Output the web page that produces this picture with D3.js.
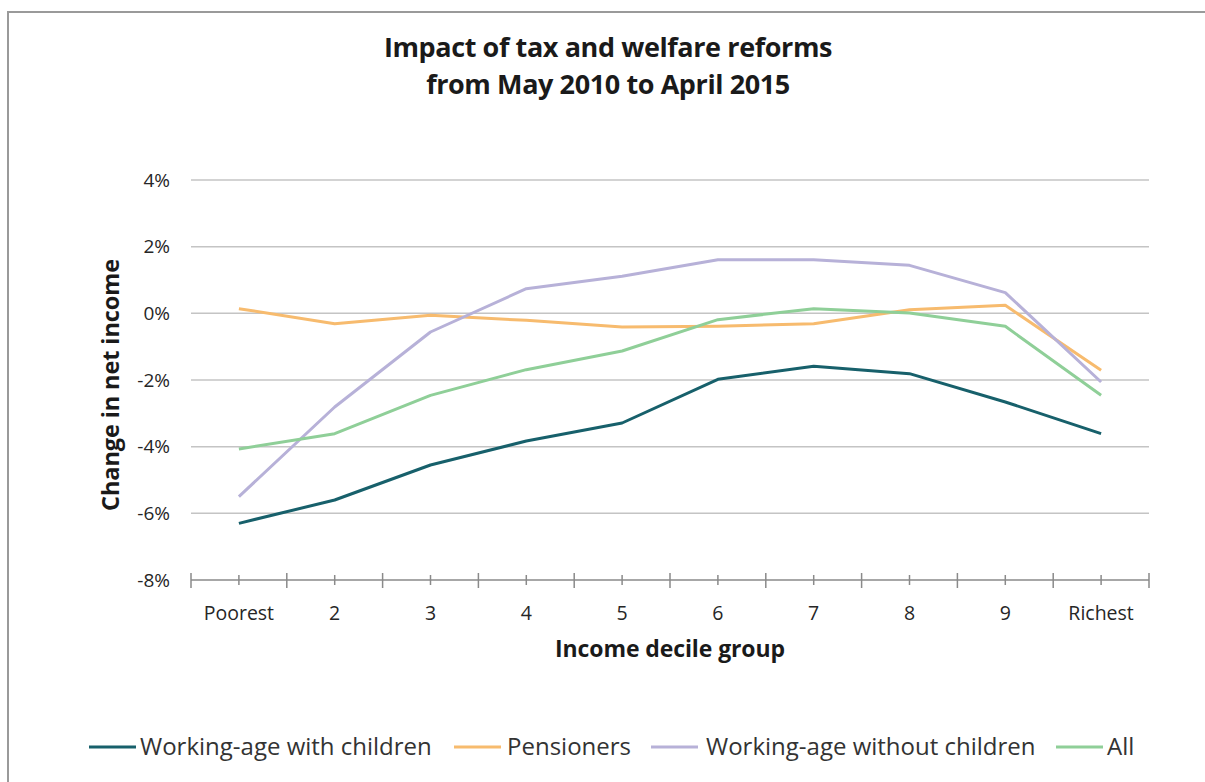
<!DOCTYPE html>
<html>
<head>
<meta charset="utf-8">
<script src="https://cdn.jsdelivr.net/npm/d3@7"></script>
<style>
  html, body { margin: 0; padding: 0; background: #fff; }
  svg { display: block; }
  text { font-family: "Open Sans", "Noto Sans", sans-serif; fill: #1a1a1a; }
</style>
</head>
<body>
<svg id="chart" width="1205" height="782"></svg>
<script>
// Income decile groups (x categories)
const deciles = ["Poorest", "2", "3", "4", "5", "6", "7", "8", "9", "Richest"];

// Change in net income (%) per decile for each household type
const workingWithChildren    = [-6.3, -5.6, -4.55, -3.83, -3.29, -1.98, -1.59, -1.81, -2.66, -3.61];
const pensioners             = [0.14, -0.31, -0.06, -0.21, -0.41, -0.39, -0.31, 0.11, 0.24, -1.71];
const workingWithoutChildren = [-5.5, -2.81, -0.56, 0.74, 1.11, 1.61, 1.61, 1.44, 0.62, -2.06];
const allHouseholds          = [-4.07, -3.61, -2.46, -1.69, -1.13, -0.19, 0.14, 0.01, -0.39, -2.46];

// Y axis ticks
const yTicks = [4, 2, 0, -2, -4, -6, -8];

const series = [
  { name: "Working-age with children",    values: workingWithChildren,    color: "#17606b" },
  { name: "Pensioners",                   values: pensioners,             color: "#f7bb6e" },
  { name: "Working-age without children", values: workingWithoutChildren, color: "#b7b1d8" },
  { name: "All",                          values: allHouseholds,          color: "#8fcf98" }
];

const svg = d3.select("#chart");

// Outer frame
svg.append("rect")
  .attr("x", 8).attr("y", 12)
  .attr("width", 1220).attr("height", 800)
  .attr("fill", "#fff")
  .attr("stroke", "#9a9a9a")
  .attr("stroke-width", 2);

const plot = { left: 191, right: 1149, top: 180, bottom: 580 };

const x = d3.scaleBand()
  .domain(deciles)
  .range([plot.left, plot.right])
  .padding(0);

const y = d3.scaleLinear()
  .domain([-8, 4])
  .range([plot.bottom, plot.top]);

// Horizontal gridlines
svg.append("g")
  .selectAll("line")
  .data(yTicks.filter(d => d > -8))
  .join("line")
  .attr("x1", plot.left).attr("x2", plot.right)
  .attr("y1", d => y(d)).attr("y2", d => y(d))
  .attr("stroke", "#c4c4c4")
  .attr("stroke-width", 1.5);

// Y tick labels
svg.append("g")
  .selectAll("text")
  .data(yTicks)
  .join("text")
  .attr("x", 170)
  .attr("y", d => y(d))
  .attr("dy", "0.35em")
  .attr("text-anchor", "end")
  .style("font-size", "19px")
  .style("fill", "#262626")
  .text(d => d + "%");

// X axis baseline with boundary ticks and centre ticks
const xAxisG = svg.append("g");
xAxisG.append("line")
  .attr("x1", plot.left).attr("x2", plot.right)
  .attr("y1", y(-8)).attr("y2", y(-8))
  .attr("stroke", "#8a8a8a").attr("stroke-width", 1.5);

const boundaries = deciles.map(d => x(d)).concat([x(deciles[deciles.length - 1]) + x.bandwidth()]);
xAxisG.selectAll("line.bound")
  .data(boundaries)
  .join("line")
  .attr("class", "bound")
  .attr("x1", d => d).attr("x2", d => d)
  .attr("y1", y(-8) - 7).attr("y2", y(-8) + 8)
  .attr("stroke", "#8a8a8a").attr("stroke-width", 1.5);

xAxisG.selectAll("line.centre")
  .data(deciles)
  .join("line")
  .attr("class", "centre")
  .attr("x1", d => x(d) + x.bandwidth() / 2).attr("x2", d => x(d) + x.bandwidth() / 2)
  .attr("y1", y(-8) - 5).attr("y2", y(-8) + 5)
  .attr("stroke", "#8a8a8a").attr("stroke-width", 1.5);

xAxisG.selectAll("text")
  .data(deciles)
  .join("text")
  .attr("x", d => x(d) + x.bandwidth() / 2)
  .attr("y", 613)
  .attr("dy", "0.35em")
  .attr("text-anchor", "middle")
  .style("font-size", "19.5px")
  .style("fill", "#262626")
  .text(d => d);

// Lines
const line = d3.line()
  .x((d, i) => x(deciles[i]) + x.bandwidth() / 2)
  .y(d => y(d));

svg.append("g")
  .selectAll("path")
  .data(series)
  .join("path")
  .attr("d", d => line(d.values))
  .attr("fill", "none")
  .attr("stroke", d => d.color)
  .attr("stroke-width", 3)
  .attr("stroke-linejoin", "round")
  .attr("stroke-linecap", "butt");

// Titles
const title = svg.append("text")
  .attr("x", 608).attr("y", 57)
  .attr("text-anchor", "middle")
  .style("font-size", "27px")
  .style("font-weight", "700")
  .style("letter-spacing", "-0.4px");
title.append("tspan").attr("x", 608).attr("dy", 0).text("Impact of tax and welfare reforms");
title.append("tspan").attr("x", 608).attr("dy", 37).text("from May 2010 to April 2015");

// Axis titles
svg.append("text")
  .attr("x", 670).attr("y", 657)
  .attr("text-anchor", "middle")
  .style("font-size", "23px")
  .style("font-weight", "700")
  .style("letter-spacing", "-0.1px")
  .text("Income decile group");

svg.append("text")
  .attr("transform", "translate(119,385) rotate(-90)")
  .attr("text-anchor", "middle")
  .style("font-size", "23.5px")
  .style("font-weight", "700")
  .style("letter-spacing", "-0.1px")
  .text("Change in net income");

// Legend
const legendItems = [
  { lineX: 89,   textX: 140 },
  { lineX: 454,  textX: 507 },
  { lineX: 651,  textX: 706 },
  { lineX: 1056, textX: 1107 }
];
const legend = svg.append("g");
series.forEach((s, i) => {
  const pos = legendItems[i];
  legend.append("line")
    .attr("x1", pos.lineX).attr("x2", pos.lineX + 47)
    .attr("y1", 747).attr("y2", 747)
    .attr("stroke", s.color).attr("stroke-width", 3);
  legend.append("text")
    .attr("x", pos.textX).attr("y", 747)
    .attr("dy", "0.35em")
    .style("font-size", "24px")
    .style("fill", "#333")
    .text(s.name);
});
</script>
</body>
</html>
